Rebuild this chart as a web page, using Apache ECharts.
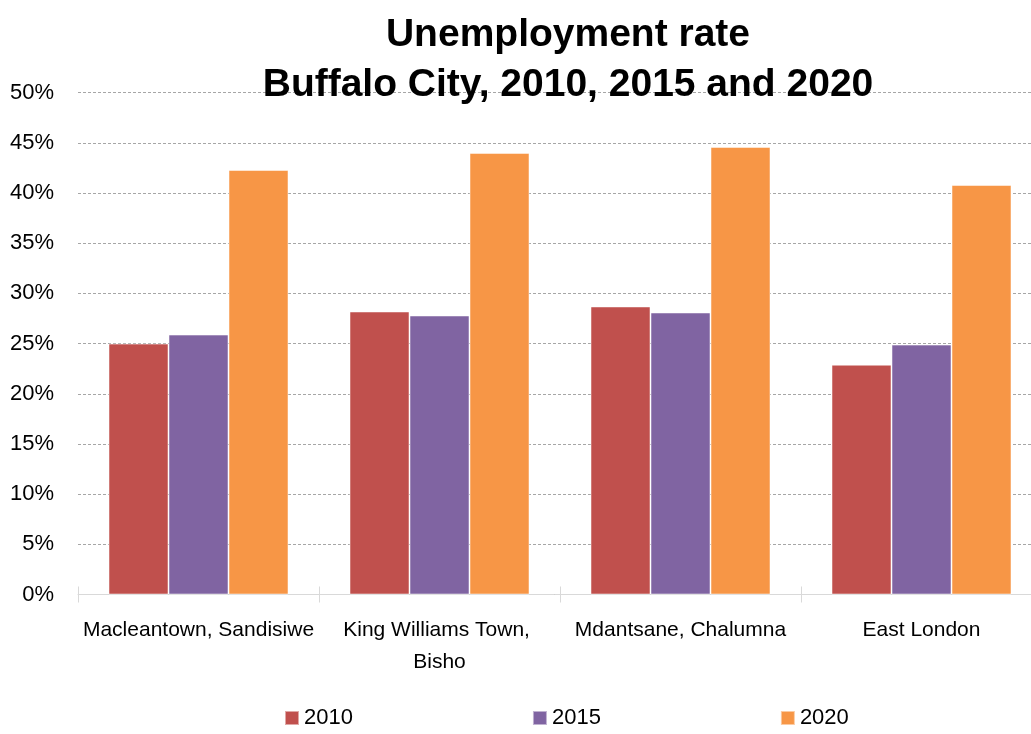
<!DOCTYPE html>
<html>
<head>
<meta charset="utf-8">
<script src="https://cdn.jsdelivr.net/npm/echarts@6/dist/echarts.min.js"></script>
<style>
html,body{margin:0;padding:0;background:#fff;}
#chart{width:1031px;height:734px;}
</style>
</head>
<body>
<div id="chart"></div>
<script>
const categories = ["Macleantown, Sandisiwe", "King Williams Town, Bisho", "Mdantsane, Chalumna", "East London"];
const seriesNames = ["2010", "2015", "2020"];
const values2010 = [25.0, 28.2, 28.7, 22.9];
const values2015 = [25.9, 27.8, 28.1, 24.9];
const values2020 = [42.3, 44.0, 44.6, 40.8];
const colors = ["#C0504D", "#8064A2", "#F79646"];
const titleLines = ["Unemployment rate", "Buffalo City, 2010, 2015 and 2020"];

const font = "'Liberation Sans Narrow', 'Arial Narrow', 'Liberation Sans', sans-serif";
const chart = echarts.init(document.getElementById('chart'), null, {renderer: 'canvas'});
const allValues = [values2010, values2015, values2020];

chart.setOption({
  animation: false,
  backgroundColor: '#ffffff',
  title: {
    text: titleLines.join('\n'),
    left: 563, top: 5, textAlign: 'center',
    textStyle: {fontFamily: font, fontWeight: 'bold', fontSize: 39, lineHeight: 50, color: '#000'}
  },
  legend: {
    top: 707, left: 284, padding: 0,
    itemWidth: 14, itemHeight: 14, itemGap: 179,
    icon: 'rect',
    textStyle: {fontFamily: font, fontSize: 22, color: '#000'},
    data: seriesNames
  },
  grid: {left: 78, right: -11, top: 92.7, bottom: 139.5, containLabel: false, outerBoundsMode: 'none'},
  xAxis: [{
    type: 'category', data: categories, position: 'bottom',
    axisLine: {show: true, lineStyle: {color: '#D9D9D9', width: 1}},
    axisTick: {show: true, length: 8, lineStyle: {color: '#D9D9D9'}},
    axisLabel: {fontFamily: font, fontSize: 21, color: '#000', margin: 20, lineHeight: 32,
      width: 238, overflow: 'break', interval: 0, hideOverlap: false}
  }, {
    type: 'category', data: categories, position: 'bottom',
    axisLine: {show: false},
    axisTick: {show: true, inside: true, length: 8, lineStyle: {color: '#D9D9D9'}},
    axisLabel: {show: false}
  }],
  yAxis: {
    type: 'value', min: 0, max: 50, interval: 5,
    axisLine: {show: false}, axisTick: {show: false},
    axisLabel: {fontFamily: font, fontSize: 22, color: '#000', margin: 24, formatter: '{value}%'},
    splitLine: {show: true, lineStyle: {color: '#A6A6A6', type: [3, 2], width: 1}}
  },
  series: seriesNames.map((n, i) => ({
    name: n, type: 'bar', data: allValues[i], barWidth: 60, barGap: '0%',
    itemStyle: {color: colors[i], borderColor: 'rgba(255,255,255,0.5)', borderWidth: 1}
  }))
});
</script>
</body>
</html>
